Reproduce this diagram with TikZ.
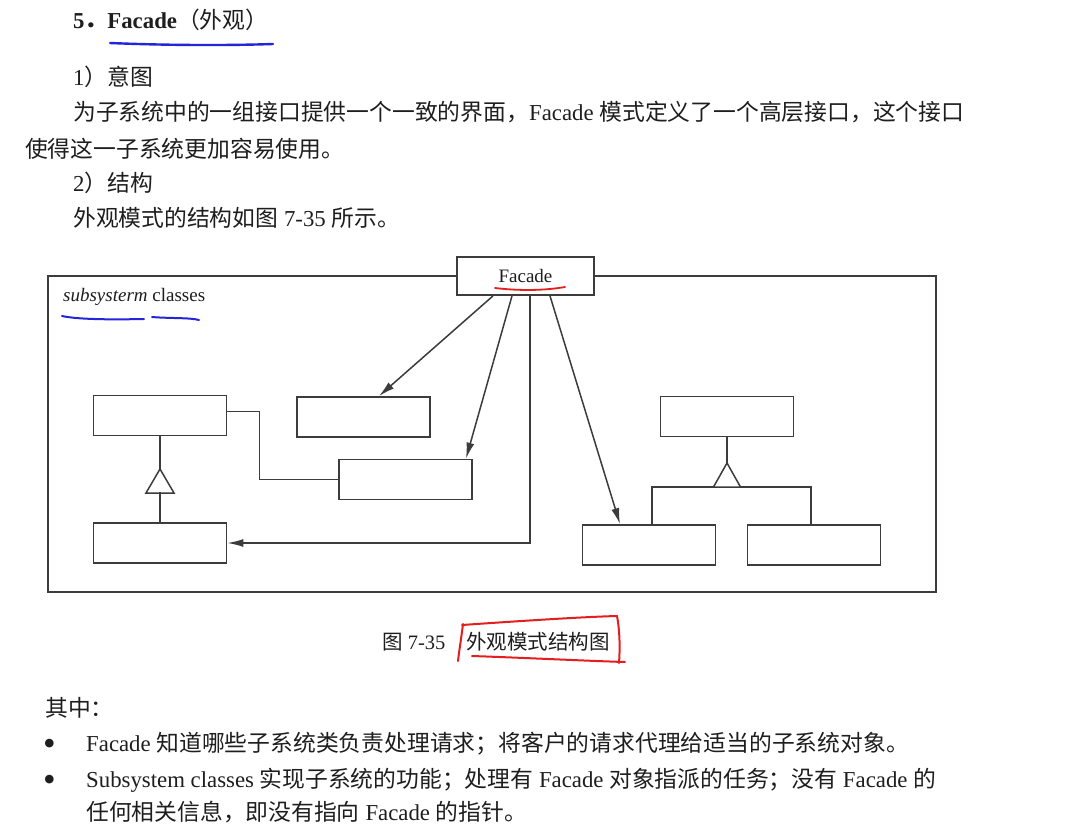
\documentclass[tikz,border=0pt]{standalone}
\usepackage{fontspec}
\setmainfont{Liberation Serif}
\newfontfamily\cjk{Noto Sans CJK SC}
\usetikzlibrary{arrows.meta}
\definecolor{ink}{HTML}{1E1E1E}
\definecolor{linec}{HTML}{3C3C3C}
\definecolor{penblue}{HTML}{2424D8}
\definecolor{penred}{HTML}{E41E1E}
\begin{document}
\begin{tikzpicture}[x=1pt,y=-1pt,
  txt/.style={anchor=base west, inner sep=0, text=ink, font=\fontsize{22.8}{27}\selectfont},
  small/.style={anchor=base west, inner sep=0, text=ink, font=\fontsize{20.5}{24}\selectfont},
  bul/.style={anchor=base west, inner sep=0, text=ink, font=\fontsize{36}{36}\selectfont},
  cls/.style={draw=linec, line width=1.8pt, minimum width=133pt, minimum height=40pt, inner sep=0, fill=white},
  link/.style={draw=linec, line width=1.5pt},
  arr/.style={link, -{Latex[length=16pt,width=8pt]}},
  pen/.style={line width=2.4pt, line cap=round}]
\useasboundingbox[fill=white] (0,0) rectangle (1085,830);

% ---------- text above ----------
\node[txt] (title) at (73,28.5) {\bfseries 5{\cjk ．}Facade{\mdseries\cjk （外观）}};
\node[txt] (h1) at (73,85.5) {1{\cjk ）意图}};
\node[txt] (p1) at (73,120) {{\cjk 为子系统中的一组接口提供一个一致的界面，}Facade {\cjk 模式定义了一个高层接口，这个接口}};
\node[txt] (p2) at (25,157) {\cjk 使得这一子系统更加容易使用。};
\node[txt] (h2) at (73,191.5) {2{\cjk ）结构}};
\node[txt] (p3) at (73,226.5) {{\cjk 外观模式的结构如图}\ 7-35 {\cjk 所示。}};

% ---------- diagram ----------
\node[draw=linec, line width=2pt, minimum width=888pt, minimum height=316pt, inner sep=0] (frame) at (492,434) {};
\node[anchor=base west, inner sep=0, text=ink, font=\fontsize{19}{22}\selectfont] (lbl) at (63,301) {\textit{subsysterm} classes};
\node[cls, minimum width=137pt, minimum height=38pt, text=ink, font=\fontsize{19}{22}\selectfont] (facade) at (525.5,276) {Facade};

\node[cls] (A) at (160,415.5) {};
\node[cls] (B) at (363.5,417) {};
\node[cls] (C) at (405.5,479.5) {};
\node[cls] (D) at (160,543) {};
\node[cls] (E) at (727,416.5) {};
\node[cls] (F) at (649,545) {};
\node[cls] (G) at (814,545) {};

% association A -- C
\draw[link] ([yshift=4pt]A.east) -- ++(32,0) |- (C.west);

% inheritance A <- D
\coordinate (t1) at (160,469);
\draw[link] (A.south) -- (t1);
\draw[link, fill=white] (t1) -- ++(-14,24) -- ++(28,0) -- cycle;
\draw[link] (D.north) -- ++(0,-30);

% inheritance E <- F, G
\coordinate (t2) at (727,463);
\draw[link] (E.south) -- (t2);
\draw[link] ([xshift=3pt]F.north) |- ([xshift=-3pt]G.north |- 0,487) -- ([xshift=-3pt]G.north);
\draw[link, fill=white] (t2) -- ++(-13.5,24) -- ++(27,0) -- cycle;

% facade arrows
\draw[arr] ([xshift=-32.5pt]facade.south) -- ([xshift=15.5pt]B.north);
\draw[arr] ([xshift=-13.5pt]facade.south) -- ([xshift=60.5pt]C.north);
\draw[arr] ([xshift=4.5pt]facade.south) |- (D.east);
\draw[arr] ([xshift=24.5pt]facade.south) -- ([xshift=-29pt]F.north);

% ---------- caption and text below ----------
\node[small] (cap1) at (382,649) {{\cjk 图}\ 7-35};
\node[small] (cap2) at (466,649) {\cjk 外观模式结构图};

\node[txt] (qz) at (45,716.5) {\cjk 其中：};
\node[bul] (d1) at (43,755) {\textbullet};
\node[txt] (l1) at (86,751.5) {Facade {\cjk 知道哪些子系统类负责处理请求；将客户的请求代理给适当的子系统对象。}};
\node[bul] (d2) at (43,791) {\textbullet};
\node[txt] (l2) at (86,787.5) {Subsystem classes {\cjk 实现子系统的功能；处理有} Facade {\cjk 对象指派的任务；没有} Facade {\cjk 的}};
\node[txt] (l3) at (86,820.5) {{\cjk 任何相关信息，即没有指向} Facade {\cjk 的指针。}};

% ---------- hand annotations ----------
\draw[pen, penblue] (110,43) .. controls (170,45.5) and (230,45.5) .. (273,44);
\draw[pen, penblue, line width=2pt] (62,316) .. controls (80,320) and (120,319.5) .. (144,319);
\draw[pen, penblue, line width=2pt] (152,317) .. controls (170,318.5) and (190,317.5) .. (199,320);
\draw[pen, penred, line width=1.8pt] (495,288) .. controls (520,291) and (545,290.5) .. (565,287);
\draw[pen, penred, line width=2pt] (463,624) .. controls (461,640) and (459,652) .. (458,661);
\draw[pen, penred, line width=2pt] (462,625) .. controls (520,621) and (580,617) .. (617,616);
\draw[pen, penred, line width=2pt] (617,616) .. controls (620,632) and (620,650) .. (619,663);
\draw[pen, penred, line width=2pt] (472,656) .. controls (530,658) and (590,661) .. (625,662);
\end{tikzpicture}
\end{document}
